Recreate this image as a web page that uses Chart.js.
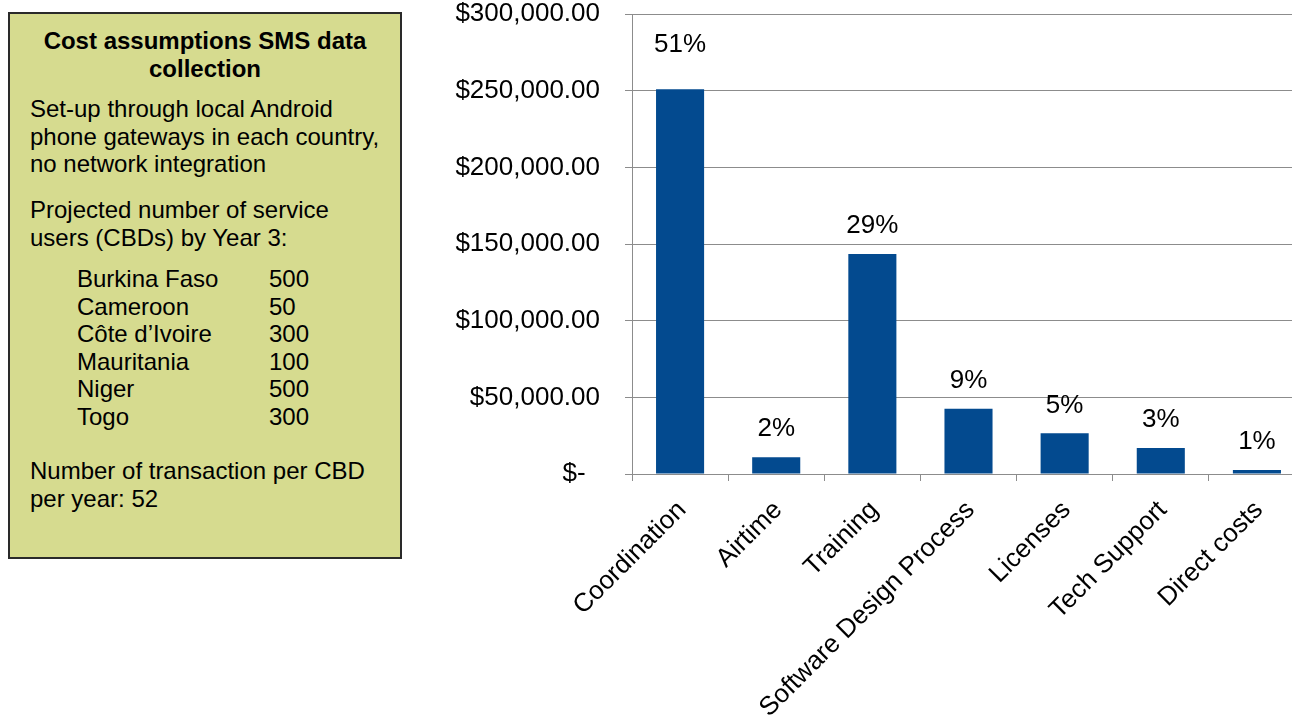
<!DOCTYPE html>
<html>
<head>
<meta charset="utf-8">
<title>SMS data collection costs</title>
<script src="https://cdn.jsdelivr.net/npm/chart.js@4"></script>
<style>
  html, body { margin: 0; padding: 0; background: #fff; overflow: hidden; }
  body { width: 1292px; height: 715px; position: relative; font-family: "Liberation Sans", Arial, sans-serif; color: #000; }
  #notes {
    position: absolute; left: 8px; top: 12px; width: 390px; height: 543px;
    background: #d6db8f; border: 2px solid #2a2a2a;
    font-size: 24px; line-height: 27.5px;
  }
  #notes .blk { position: absolute; left: 20px; white-space: nowrap; }
  #notes .title { left: 0; width: 100%; text-align: center; font-weight: bold; }
  #notes table { border-collapse: collapse; }
  #notes td { padding: 0; height: 27.6px; }
  #notes td.name { width: 192px; }
  #chart-wrap { position: absolute; left: 420px; top: 0; width: 885px; height: 715px; }
</style>
</head>
<body>

<div id="notes">
  <div class="blk title" style="top:13px">Cost assumptions SMS data<br>collection</div>
  <div class="blk" style="top:81px">Set-up through local Android<br>phone gateways in each country,<br>no network integration</div>
  <div class="blk" style="top:182px">Projected number of service<br>users (CBDs) by Year 3:</div>
  <div class="blk" style="top:251px; left:67px">
    <table id="cbd-table"></table>
  </div>
  <div class="blk" style="top:443px">Number of transaction per CBD<br>per year: 52</div>
</div>

<div id="chart-wrap"><canvas id="chart-costs"></canvas></div>

<script>
// cost categories and their totals (USD)
const categories = [
  "Coordination",
  "Airtime",
  "Training",
  "Software Design Process",
  "Licenses",
  "Tech Support",
  "Direct costs",
];
const costs = [251000, 11000, 143500, 42500, 26500, 17000, 2600];

// projected CBDs per country by year 3
const countries = ["Burkina Faso", "Cameroon", "Côte d’Ivoire", "Mauritania", "Niger", "Togo"];
const cbdUsers = [500, 50, 300, 100, 500, 300];

const yTicks = [0, 50000, 100000, 150000, 200000, 250000, 300000];

const FONT = "'Liberation Sans', Arial, sans-serif";
const BAR_BLUE = "#034a8f";
const GRID_GREY = "#8c8c8c";

// fill the country table in the notes box
const tbl = document.getElementById("cbd-table");
countries.forEach((c, i) => {
  const tr = document.createElement("tr");
  tr.innerHTML = `<td class="name">${c}</td><td>${cbdUsers[i]}</td>`;
  tbl.appendChild(tr);
});

const total = costs.reduce((a, b) => a + b, 0);
const shares = costs.map((v) => Math.round((v / total) * 100) + "%");

function money(v) {
  if (v === 0) return "$-  ";
  return "$" + v.toLocaleString("en-US", { minimumFractionDigits: 2, maximumFractionDigits: 2 });
}

// share-of-total labels above each bar
const shareLabels = {
  id: "shareLabels",
  afterDatasetsDraw(chart) {
    const { ctx } = chart;
    const meta = chart.getDatasetMeta(0);
    ctx.save();
    ctx.font = `26px ${FONT}`;
    ctx.fillStyle = "#000";
    ctx.textAlign = "center";
    ctx.textBaseline = "middle";
    meta.data.forEach((bar, i) => {
      const lift = i === 0 ? 44 : 28;
      ctx.fillText(shares[i], bar.x, bar.y - lift);
    });
    ctx.restore();
  },
};

new Chart(document.getElementById("chart-costs").getContext("2d"), {
  type: "bar",
  data: {
    labels: categories,
    datasets: [
      {
        data: costs,
        backgroundColor: BAR_BLUE,
        borderWidth: 0,
        barPercentage: 0.5,
        categoryPercentage: 1.0,
      },
    ],
  },
  options: {
    responsive: true,
    maintainAspectRatio: false,
    animation: false,
    layout: { padding: { top: 14, right: 0, bottom: 0, left: 0 } },
    plugins: {
      legend: { display: false },
      tooltip: { enabled: false },
    },
    scales: {
      x: {
        offset: true,
        afterFit: (scale) => { scale.height = 241; },
        grid: {
          offset: true,
          drawOnChartArea: false,
          drawTicks: true,
          tickLength: 7,
          color: GRID_GREY,
        },
        border: { display: true, color: GRID_GREY, width: 1 },
        ticks: {
          autoSkip: false,
          maxRotation: 45,
          minRotation: 45,
          padding: 14,
          labelOffset: 2,
          color: "#000",
          font: { family: FONT, size: 26 },
        },
      },
      y: {
        min: 0,
        max: 300000,
        afterFit: (scale) => {
          scale.width = 212;
          // keep the tick padding from pushing the plot down
          scale.paddingTop = 14;
          scale.paddingBottom = 14;
        },
        afterBuildTicks: (scale) => { scale.ticks = yTicks.map((v) => ({ value: v })); },
        grid: { color: GRID_GREY, lineWidth: 1, tickLength: 7 },
        border: { display: true, color: GRID_GREY, width: 1 },
        ticks: {
          padding: 25,
          color: "#000",
          font: { family: FONT, size: 26 },
          callback: (v) => money(v),
        },
      },
    },
  },
  plugins: [shareLabels],
});
</script>
</body>
</html>
